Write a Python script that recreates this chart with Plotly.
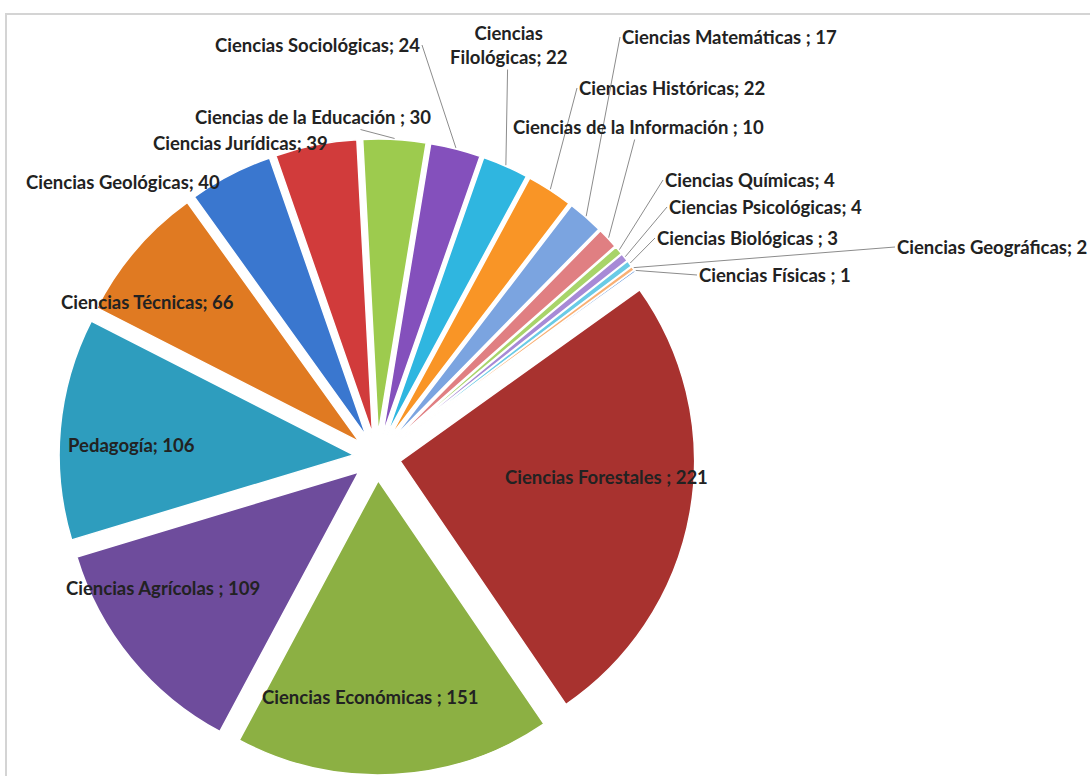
import math
import plotly.graph_objects as go

# ---------------- data ----------------
categories = [
    "Ciencias Físicas", "Ciencias Forestales", "Ciencias Económicas",
    "Ciencias Agrícolas", "Pedagogía", "Ciencias Técnicas",
    "Ciencias Geológicas", "Ciencias Jurídicas", "Ciencias de la Educación",
    "Ciencias Sociológicas", "Ciencias Filológicas", "Ciencias Históricas",
    "Ciencias Matemáticas", "Ciencias de la Información", "Ciencias Químicas",
    "Ciencias Psicológicas", "Ciencias Biológicas", "Ciencias Geográficas",
]
values = [1, 221, 151, 109, 106, 66, 40, 39, 30, 24, 22, 22, 17, 10, 4, 4, 3, 2]
label_texts = [
    "Ciencias Físicas ; 1", "Ciencias Forestales ; 221", "Ciencias Económicas ; 151",
    "Ciencias Agrícolas ; 109", "Pedagogía; 106", "Ciencias Técnicas; 66",
    "Ciencias Geológicas; 40", "Ciencias Jurídicas; 39", "Ciencias de la Educación ; 30",
    "Ciencias Sociológicas; 24", "Ciencias<br>Filológicas; 22", "Ciencias Históricas; 22",
    "Ciencias Matemáticas ; 17", "Ciencias de la Información ; 10", "Ciencias Químicas; 4",
    "Ciencias Psicológicas; 4", "Ciencias Biológicas ; 3", "Ciencias Geográficas; 2",
]

# ---------------- styles / layout ----------------
colors = [
    "#5B8FD6", "#A8322F", "#8CB043", "#6E4C9C", "#2E9DBE", "#E07A22",
    "#3A77CF", "#D13B3B", "#9DCB4E", "#8450BC", "#2FB6E0", "#F99526",
    "#7BA4E0", "#E07F82", "#A8D46A", "#A78AD6", "#6ACBE6", "#F9B074",
]
# label placement: (x px, y px, leader line?, horizontal anchor of x)
label_pos = {
    "Ciencias Físicas": (697, 275, True, "left"),
    "Ciencias Forestales": (606, 477, False, "center"),
    "Ciencias Económicas": (370, 697, False, "center"),
    "Ciencias Agrícolas": (163, 588, False, "center"),
    "Pedagogía": (131, 445, False, "center"),
    "Ciencias Técnicas": (147, 302, False, "center"),
    "Ciencias Geológicas": (123, 182, False, "center"),
    "Ciencias Jurídicas": (240, 143, False, "center"),
    "Ciencias de la Educación": (313, 117, True, "center"),
    "Ciencias Sociológicas": (422, 45, True, "right"),
    "Ciencias Filológicas": (508, 45, True, "center"),
    "Ciencias Históricas": (577, 88, True, "left"),
    "Ciencias Matemáticas": (620, 37, True, "left"),
    "Ciencias de la Información": (638, 127, True, "center"),
    "Ciencias Químicas": (663, 180, True, "left"),
    "Ciencias Psicológicas": (667, 207, True, "left"),
    "Ciencias Biológicas": (655, 238, True, "left"),
    "Ciencias Geográficas": (895, 247, True, "left"),
}

W, H = 1090, 776
CX, CY, RT = 377, 457, 318   # pie centre and outer radius (incl. pull), px
PULL = 0.08
ROTATION = 54

fig = go.Figure(
    go.Pie(
        labels=categories,
        values=values,
        sort=False,
        direction="clockwise",
        rotation=ROTATION,
        pull=[PULL] * len(values),
        marker=dict(colors=colors, line=dict(color="white", width=1.5)),
        textinfo="none",
        hoverinfo="label+value",
        domain=dict(x=[(CX - RT) / W, (CX + RT) / W],
                    y=[(H - CY - RT) / H, (H - CY + RT) / H]),
    )
)

total = sum(values)
font = dict(family="Lato, Carlito, Calibri, sans-serif", size=18.5, color="#222222", weight="bold")
annotations = []
cum = 0
for cat, v, txt in zip(categories, values, label_texts):
    mid = math.radians(ROTATION + (cum + v / 2) / total * 360)
    cum += v
    tx, ty, leader, anchor = label_pos[cat]
    if leader:
        tipx = CX + (RT + 1) * math.sin(mid)
        tipy = CY - (RT + 1) * math.cos(mid)
        annotations.append(dict(
            x=tipx / W, y=1 - tipy / H, xref="paper", yref="paper",
            ax=tx - tipx, ay=ty - tipy, text=txt, showarrow=True,
            arrowhead=0, arrowwidth=1, arrowcolor="#8c8c8c",
            standoff=0, startstandoff=0, xanchor=anchor, yanchor="middle",
            font=font, align="center",
        ))
    else:
        annotations.append(dict(
            x=tx / W, y=1 - ty / H, xref="paper", yref="paper",
            text=txt, showarrow=False, font=font, align="center",
            xanchor="center", yanchor="middle",
        ))

fig.update_layout(
    width=W, height=H,
    margin=dict(l=0, r=0, t=0, b=0),
    paper_bgcolor="white",
    plot_bgcolor="white",
    showlegend=False,
    annotations=annotations,
    shapes=[dict(type="rect", xref="paper", yref="paper",
                 x0=6 / W, x1=1 + 10 / W, y0=-10 / H, y1=1 - 14 / H,
                 line=dict(color="#d4d4d4", width=2), layer="below")],
)

fig.write_html(
    "out.html",
    config={"displayModeBar": False},
    post_script="document.body.style.margin='0';document.body.style.overflow='hidden';",
)
